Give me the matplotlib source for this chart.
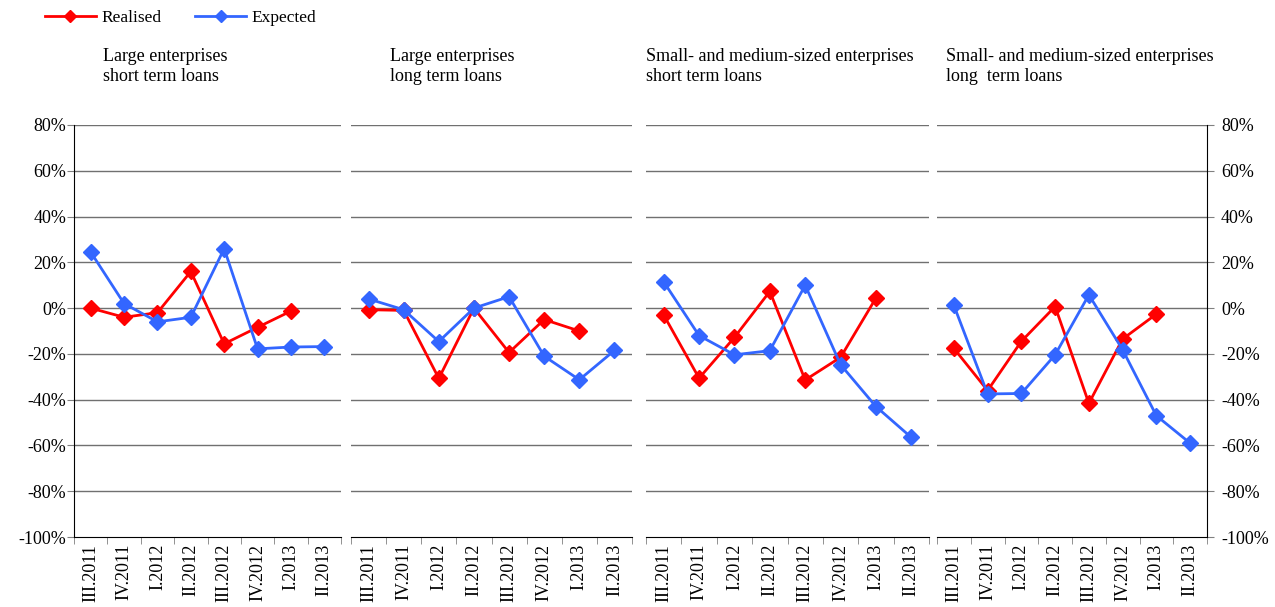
import numpy as np
import matplotlib
matplotlib.use("Agg")
import matplotlib.pyplot as plt
from matplotlib.lines import Line2D

plt.rcParams['font.family'] = ['Liberation Serif', 'DejaVu Serif']
plt.rcParams['font.size'] = 13

quarters = ['III.2011', 'IV.2011', 'I.2012', 'II.2012', 'III.2012', 'IV.2012', 'I.2013', 'II.2013']

titles = ['Large enterprises\nshort term loans',
          'Large enterprises\nlong term loans',
          'Small- and medium-sized enterprises\nshort term loans',
          'Small- and medium-sized enterprises\nlong  term loans']

# realised values end at I.2013, expected goes one quarter further
realised_large_short = [0.0, -4.0, -2.0, 16.0, -15.6, -8.4, -1.3]
expected_large_short = [24.5, 2.0, -6.0, -4.0, 26.0, -17.8, -17.0, -16.8]

realised_large_long = [-0.7, -1.0, -30.7, 0.0, -19.4, -5.0, -10.0]
expected_large_long = [4.0, -0.7, -14.6, 0.0, 5.0, -21.0, -31.3, -18.5]

realised_sme_short = [-3.0, -30.6, -12.8, 7.3, -31.4, -21.5, 4.4]
expected_sme_short = [11.5, -12.0, -20.4, -18.6, 10.0, -24.7, -43.0, -56.5]

realised_sme_long = [-17.6, -36.0, -14.5, 0.7, -41.6, -13.5, -2.6]
expected_sme_long = [1.2, -37.5, -37.3, -20.4, 5.8, -18.2, -47.0, -59.0]

realised = [realised_large_short, realised_large_long, realised_sme_short, realised_sme_long]
expected = [expected_large_short, expected_large_long, expected_sme_short, expected_sme_long]

red = '#FF0000'
blue = '#3366FF'

W, H = 1275, 607
fig = plt.figure(figsize=(W / 100, H / 100), dpi=100)

# panel boxes in pixels: left, right
boxes = [(74, 341), (351, 632), (646, 929), (937, 1207)]
top_px, bot_px = 125, 537
title_x = [103, 390, 646, 946]

yticks = np.arange(-100, 81, 20)

for i, (l, r) in enumerate(boxes):
    ax = fig.add_axes([l / W, 1 - bot_px / H, (r - l) / W, (bot_px - top_px) / H])
    x = np.arange(len(quarters))
    ax.plot(np.arange(len(realised[i])), realised[i], color=red, lw=2,
            marker='D', ms=8.5, zorder=3)
    ax.plot(x, expected[i], color=blue, lw=2, marker='D', ms=8.5, zorder=4)

    ax.set_xlim(-0.5, len(quarters) - 0.5)
    ax.set_ylim(-100, 80)
    for v in yticks[1:]:
        ax.axhline(v, color='#707070', lw=1, zorder=1)

    ax.set_xticks(x)
    ax.set_xticklabels(quarters, rotation=90)
    ax.set_xticks(np.arange(-0.5, len(quarters)), minor=True)
    ax.tick_params(axis='x', which='major', length=0, pad=5)
    ax.tick_params(axis='x', which='minor', length=5, color='#808080')

    for s in ['top', 'left', 'right']:
        ax.spines[s].set_visible(False)
    ax.spines['bottom'].set_color('black')

    ax.set_yticks(yticks)
    ax.set_yticklabels(['%d%%' % v for v in yticks])
    if i == 0:
        ax.spines['left'].set_visible(True)
        ax.tick_params(axis='y', length=5, color='#808080', pad=0.5)
    elif i == 3:
        ax.spines['right'].set_visible(True)
        ax.yaxis.tick_right()
        ax.tick_params(axis='y', length=5, color='#808080', pad=5)
    else:
        ax.tick_params(axis='y', left=False, labelleft=False)

    fig.text(title_x[i] / W, 1 - 48 / H, titles[i], ha='left', va='top',
             fontsize=13, linespacing=1.2)

handles = [Line2D([], [], color=red, lw=2, marker='D', ms=6),
           Line2D([], [], color=blue, lw=2, marker='D', ms=6)]
fig.legend(handles, ['Realised', 'Expected'], loc='upper left',
           bbox_to_anchor=(29 / W, 1.009), ncol=2, frameon=False,
           handlelength=2.95, handletextpad=0.3, columnspacing=1.95,
           fontsize=12.5)

fig.savefig('out.png', dpi=100)
